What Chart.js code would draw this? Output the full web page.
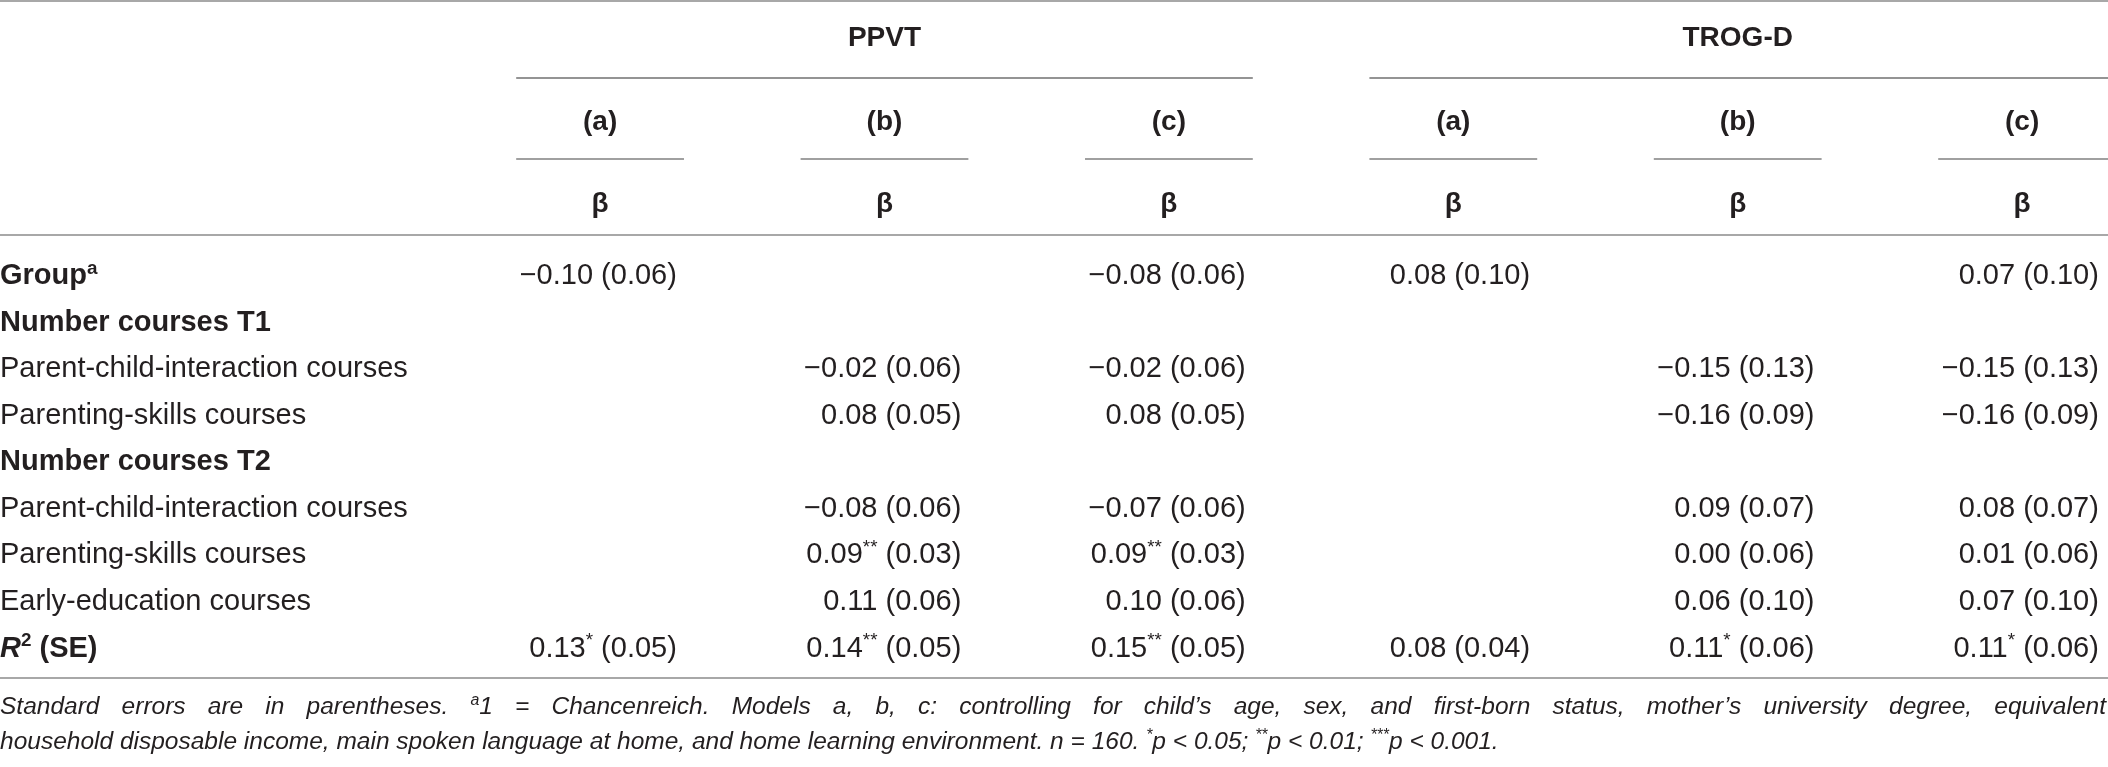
<!DOCTYPE html>
<html>
<head>
<meta charset="utf-8">
<script src="https://cdn.jsdelivr.net/npm/chart.js@4.4.1/dist/chart.umd.min.js"></script>
<style>
  html, body { margin: 0; padding: 0; background: #fff; }
  #wrap { width: 2108px; height: 767px; position: relative; }
</style>
</head>
<body>
<div id="wrap"><canvas id="tbl"></canvas></div>
<script>
// table content
const outcomes = ['PPVT', 'TROG-D'];
const models = ['(a)', '(b)', '(c)', '(a)', '(b)', '(c)'];
const coefLabel = 'β';
const rowLabels = ['Group^{a}', 'Number courses T1', 'Parent-child-interaction courses', 'Parenting-skills courses',
  'Number courses T2', 'Parent-child-interaction courses', 'Parenting-skills courses', 'Early-education courses', '~{R}^{2} (SE)'];

const ppvtBetaA = [-0.10, null, null, null, null, null, null, null, 0.13];
const ppvtSeA   = [0.06, null, null, null, null, null, null, null, 0.05];
const ppvtStarA = [0, 0, 0, 0, 0, 0, 0, 0, 1];
const ppvtBetaB = [null, null, -0.02, 0.08, null, -0.08, 0.09, 0.11, 0.14];
const ppvtSeB   = [null, null, 0.06, 0.05, null, 0.06, 0.03, 0.06, 0.05];
const ppvtStarB = [0, 0, 0, 0, 0, 0, 2, 0, 2];
const ppvtBetaC = [-0.08, null, -0.02, 0.08, null, -0.07, 0.09, 0.10, 0.15];
const ppvtSeC   = [0.06, null, 0.06, 0.05, null, 0.06, 0.03, 0.06, 0.05];
const ppvtStarC = [0, 0, 0, 0, 0, 0, 2, 0, 2];
const trogBetaA = [0.08, null, null, null, null, null, null, null, 0.08];
const trogSeA   = [0.10, null, null, null, null, null, null, null, 0.04];
const trogStarA = [0, 0, 0, 0, 0, 0, 0, 0, 0];
const trogBetaB = [null, null, -0.15, -0.16, null, 0.09, 0.00, 0.06, 0.11];
const trogSeB   = [null, null, 0.13, 0.09, null, 0.07, 0.06, 0.10, 0.06];
const trogStarB = [0, 0, 0, 0, 0, 0, 0, 0, 1];
const trogBetaC = [0.07, null, -0.15, -0.16, null, 0.08, 0.01, 0.07, 0.11];
const trogSeC   = [0.10, null, 0.13, 0.09, null, 0.07, 0.06, 0.10, 0.06];
const trogStarC = [0, 0, 0, 0, 0, 0, 0, 0, 1];

const footLine1 = 'Standard errors are in parentheses. ^{a}1 = Chancenreich. Models a, b, c: controlling for child’s age, sex, and first-born status, mother’s university degree, equivalent';
const footLine2 = 'household disposable income, main spoken language at home, and home learning environment. n = 160. ^{*}p < 0.05; ^{**}p < 0.01; ^{***}p < 0.001.';

// layout (scale units: one body row = 1 on y, one model column = 1 on x)
const X_MIN = -1.11, X_MAX = 6.302;
const Y_MIN = -5.89, Y_MAX = 10.6;
const CELL_RIGHT = 0.27, LINE_HALF = 0.295;
const HEAD_Y = [-5.12, -3.31, -1.55];
const FOOT_Y = [9.27, 10.02];
const boldRows = [0, 1, 4, 8];
const FAMILY = '"Liberation Sans", Arial, Helvetica, sans-serif';
const INK = '#231f20';
const SIZE = 29, HEAD_SIZE = 28, FOOT_SIZE = 24.5;

const columns = [
  [ppvtBetaA, ppvtSeA, ppvtStarA], [ppvtBetaB, ppvtSeB, ppvtStarB], [ppvtBetaC, ppvtSeC, ppvtStarC],
  [trogBetaA, trogSeA, trogStarA], [trogBetaB, trogSeB, trogStarB], [trogBetaC, trogSeC, trogStarC]
];

function fmt(v) {
  return (v < 0 ? '−' : '') + Math.abs(v).toFixed(2);
}

// '^{..}' superscript, '~{..}' italic
function parse(str) {
  const out = [];
  const re = /(\^|~)\{([^}]*)\}/g;
  let last = 0, m;
  while ((m = re.exec(str)) !== null) {
    if (m.index > last) out.push({ t: str.slice(last, m.index) });
    out.push(m[1] === '^' ? { t: m[2], sup: true } : { t: m[2], it: true });
    last = re.lastIndex;
  }
  if (last < str.length) out.push({ t: str.slice(last) });
  return out;
}

function fontFor(run, size, bold, italic) {
  const s = run.sup ? size * 0.65 : size;
  return ((italic || run.it) ? 'italic ' : '') + (bold ? 'bold ' : '') + s + 'px ' + FAMILY;
}

function runsWidth(ctx, runs, size, bold, italic) {
  let w = 0;
  runs.forEach(r => { ctx.font = fontFor(r, size, bold, italic); w += ctx.measureText(r.t).width; });
  return w;
}

function drawRuns(ctx, runs, x, y, align, size, bold, italic) {
  const w = runsWidth(ctx, runs, size, bold, italic);
  let cx = align === 'right' ? x - w : align === 'center' ? x - w / 2 : x;
  const base = y + size * 0.36;
  runs.forEach(r => {
    ctx.font = fontFor(r, size, bold, italic);
    ctx.fillText(r.t, cx, r.sup ? base - size * 0.36 : base);
    cx += ctx.measureText(r.t).width;
  });
}

// datasets: one per table column plus row labels and headers
const datasets = [];
columns.forEach((col, c) => {
  const [beta, se, star] = col;
  const pts = [];
  beta.forEach((b, r) => {
    if (b === null) return;
    pts.push({ x: c + 1 + CELL_RIGHT, y: r, align: 'right', size: SIZE,
      runs: [{ t: fmt(b) }].concat(star[r] ? [{ t: '*'.repeat(star[r]), sup: true }] : [], [{ t: ' (' + se[r].toFixed(2) + ')' }]) });
  });
  datasets.push({ label: outcomes[c < 3 ? 0 : 1] + ' ' + models[c], data: pts });
});
datasets.push({
  label: 'rows',
  data: rowLabels.map((l, r) => ({ x: X_MIN, y: r, align: 'left', size: SIZE, bold: boldRows.includes(r), runs: parse(l) }))
});
const heads = [];
outcomes.forEach((o, i) => heads.push({ x: 2 + i * 3, y: HEAD_Y[0], align: 'center', size: HEAD_SIZE, bold: true, runs: [{ t: o }] }));
models.forEach((m, i) => heads.push({ x: i + 1, y: HEAD_Y[1], align: 'center', size: HEAD_SIZE, bold: true, runs: [{ t: m }] }));
models.forEach((m, i) => heads.push({ x: i + 1, y: HEAD_Y[2], align: 'center', size: HEAD_SIZE, bold: true, runs: [{ t: coefLabel }] }));
datasets.push({ label: 'head', data: heads });

datasets.forEach(d => { d.pointRadius = 0; d.pointHoverRadius = 0; d.showLine = false; });

const rules = [
  { y: -5.87, from: X_MIN, to: X_MAX, color: '#a8a8a8', w: 2 },
  { y: -4.215, from: 1 - LINE_HALF, to: 3 + LINE_HALF, color: '#707070', w: 1.5 },
  { y: -4.215, from: 4 - LINE_HALF, to: X_MAX, color: '#707070', w: 1.5 },
  { y: -0.839, from: X_MIN, to: X_MAX, color: '#a8a8a8', w: 2 },
  { y: 8.677, from: X_MIN, to: X_MAX, color: '#a8a8a8', w: 2 }
];
models.forEach((m, i) => rules.push({ y: -2.473, from: i + 1 - LINE_HALF, to: i === 5 ? X_MAX : i + 1 + LINE_HALF, color: '#a0a0a0', w: 2 }));

const tablePlugin = {
  id: 'tableText',
  afterDatasetsDraw(chart) {
    const { ctx, scales: { x, y } } = chart;
    ctx.save();
    rules.forEach(r => {
      const py = Math.round(y.getPixelForValue(r.y));
      ctx.strokeStyle = r.color;
      ctx.lineWidth = r.w;
      ctx.beginPath();
      ctx.moveTo(x.getPixelForValue(r.from), py);
      ctx.lineTo(x.getPixelForValue(r.to), py);
      ctx.stroke();
    });
    ctx.fillStyle = INK;
    ctx.textBaseline = 'alphabetic';
    chart.data.datasets.forEach((ds, i) => {
      const meta = chart.getDatasetMeta(i);
      meta.data.forEach((pt, j) => {
        const raw = ds.data[j];
        drawRuns(ctx, raw.runs, pt.x, pt.y, raw.align, raw.size, raw.bold, false);
      });
    });
    // footnote: first line justified to the full width
    const left = x.getPixelForValue(X_MIN), right = x.getPixelForValue(X_MAX) - 2;
    const words = footLine1.split(' ').map(parse);
    const ww = words.map(w => runsWidth(ctx, w, FOOT_SIZE, false, true));
    const gap = Math.max(3, (right - left - ww.reduce((a, b) => a + b, 0)) / (words.length - 1));
    let fx = left;
    const fy1 = y.getPixelForValue(FOOT_Y[0]);
    words.forEach((w, k) => { drawRuns(ctx, w, fx, fy1, 'left', FOOT_SIZE, false, true); fx += ww[k] + gap; });
    drawRuns(ctx, parse(footLine2), left, y.getPixelForValue(FOOT_Y[1]), 'left', FOOT_SIZE, false, true);
    ctx.restore();
  }
};

new Chart(document.getElementById('tbl'), {
  type: 'scatter',
  data: { datasets: datasets },
  options: {
    responsive: true,
    maintainAspectRatio: false,
    animation: false,
    events: [],
    layout: { padding: 0 },
    scales: {
      x: { type: 'linear', min: X_MIN, max: X_MAX, display: false },
      y: { type: 'linear', min: Y_MIN, max: Y_MAX, reverse: true, display: false }
    },
    plugins: { legend: { display: false }, tooltip: { enabled: false } }
  },
  plugins: [tablePlugin]
});
</script>
</body>
</html>
